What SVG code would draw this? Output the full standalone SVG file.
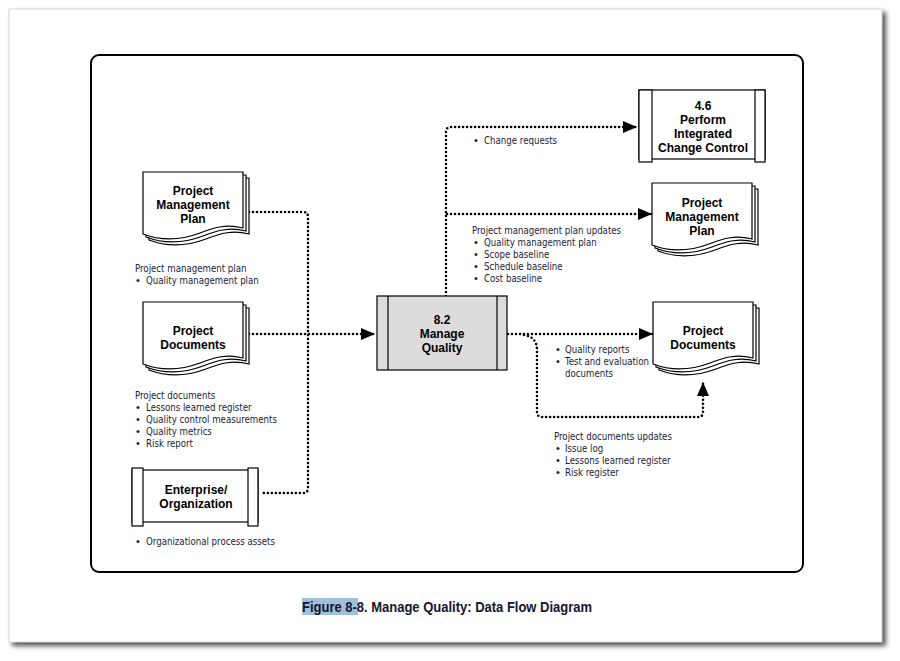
<svg xmlns="http://www.w3.org/2000/svg" width="900" height="661" viewBox="0 0 900 661">
<defs>
<style>
.node{fill:#fff;stroke:#000;stroke-width:1.2}
.gray{fill:#dcdcdc;stroke:#000;stroke-width:1.2}
.nt{font-family:"Liberation Sans",Arial,sans-serif;font-weight:bold;font-size:12px;fill:#000;text-anchor:middle}
.lb{font-family:"Liberation Sans Narrow","DejaVu Sans Condensed","Liberation Sans",sans-serif;font-size:9.6px;fill:#1c1c3c}
.bl{font-family:"Liberation Sans",Arial,sans-serif;font-size:11px;fill:#1c1c3c}
.dot{fill:none;stroke:#000;stroke-width:2.6;stroke-linecap:round;stroke-dasharray:0 4}
</style>
<marker id="ah" markerUnits="userSpaceOnUse" markerWidth="15" markerHeight="14" refX="14" refY="7" orient="auto">
<path d="M0,1 L14,7 L0,13 Z" fill="#000"/>
</marker>
<filter id="sh" x="-5%" y="-5%" width="110%" height="110%">
<feGaussianBlur stdDeviation="2.5"/>
</filter>
<g id="doc">
<path d="M6,6 H106 V62 C90,58 78,61 63,67 C47,73 27,76 6,68 Z" class="node"/>
<path d="M3,3 H103 V59 C87,55 75,58 60,64 C44,70 24,73 3,65 Z" class="node"/>
<path d="M0,0 H100 V56 C84,52 72,55 57,61 C41,67 21,70 0,62 Z" class="node"/>
</g>
</defs>
<rect width="900" height="661" fill="#fff"/>
<rect x="12" y="12" width="874" height="634" fill="#555" filter="url(#sh)"/>
<rect x="9" y="9" width="873" height="633" fill="#fff" stroke="#d8d8d8" stroke-width="1"/>
<rect x="91" y="55" width="712" height="517" rx="8" fill="#fff" stroke="#000" stroke-width="2"/>

<g id="connectors">
<path class="dot" d="M249,212 H303 Q308,212 308,217 V488 Q308,493 303,493 H262"/>
<path class="dot" d="M249,334 H375" marker-end="url(#ah)"/>
<path class="dot" d="M446,296 V132 Q446,127 451,127 H637" marker-end="url(#ah)"/>
<path class="dot" d="M447,214 H652" marker-end="url(#ah)"/>
<path class="dot" d="M508,334 H653" marker-end="url(#ah)"/>
<path class="dot" d="M524,335 Q537,337 537,350 V412 Q537,417 542,417 H698 Q703,417 703,412 V382" marker-end="url(#ah)"/>
</g>

<g id="pmp-in">
<use href="#doc" x="143" y="172"/>
<text class="nt" x="193" y="195">Project</text>
<text class="nt" x="193" y="209">Management</text>
<text class="nt" x="193" y="223">Plan</text>
<text class="lb" x="135" y="272">Project management plan</text>
<text class="bl" x="136" y="284">•</text><text class="lb" x="146" y="284">Quality management plan</text>
</g>

<g id="pd-in">
<use href="#doc" x="143" y="302"/>
<text class="nt" x="193" y="335">Project</text>
<text class="nt" x="193" y="349">Documents</text>
<text class="lb" x="135" y="399">Project documents</text>
<text class="bl" x="136" y="411">•</text><text class="lb" x="146" y="411">Lessons learned register</text>
<text class="bl" x="136" y="423">•</text><text class="lb" x="146" y="423">Quality control measurements</text>
<text class="bl" x="136" y="435">•</text><text class="lb" x="146" y="435">Quality metrics</text>
<text class="bl" x="136" y="447">•</text><text class="lb" x="146" y="447">Risk report</text>
</g>

<g id="eeo">
<rect class="node" x="132" y="470" width="126" height="52"/>
<rect class="node" x="132" y="468" width="11" height="58"/>
<rect class="node" x="248" y="468" width="10" height="58"/>
<text class="nt" x="196" y="494">Enterprise/</text>
<text class="nt" x="196" y="508">Organization</text>
<text class="bl" x="136" y="545">•</text><text class="lb" x="146" y="545">Organizational process assets</text>
</g>

<g id="mq">
<rect class="gray" x="377" y="296" width="130" height="74"/>
<line x1="388" y1="296" x2="388" y2="370" stroke="#000" stroke-width="1.2"/>
<line x1="497" y1="296" x2="497" y2="370" stroke="#000" stroke-width="1.2"/>
<text class="nt" x="442" y="324">8.2</text>
<text class="nt" x="442" y="338">Manage</text>
<text class="nt" x="442" y="352">Quality</text>
</g>

<g id="picc">
<rect class="node" x="639" y="90" width="126" height="69"/>
<rect class="node" x="639" y="90" width="13" height="72"/>
<rect class="node" x="755" y="90" width="10" height="72"/>
<text class="nt" x="703" y="110">4.6</text>
<text class="nt" x="703" y="124">Perform</text>
<text class="nt" x="703" y="138">Integrated</text>
<text class="nt" x="703" y="152">Change Control</text>
<text class="bl" x="474" y="144">•</text><text class="lb" x="484" y="144">Change requests</text>
</g>

<g id="pmp-out">
<use href="#doc" x="652" y="183"/>
<text class="nt" x="702" y="207">Project</text>
<text class="nt" x="702" y="221">Management</text>
<text class="nt" x="702" y="235">Plan</text>
<text class="lb" x="472" y="234">Project management plan updates</text>
<text class="bl" x="474" y="246">•</text><text class="lb" x="484" y="246">Quality management plan</text>
<text class="bl" x="474" y="258">•</text><text class="lb" x="484" y="258">Scope baseline</text>
<text class="bl" x="474" y="270">•</text><text class="lb" x="484" y="270">Schedule baseline</text>
<text class="bl" x="474" y="282">•</text><text class="lb" x="484" y="282">Cost baseline</text>
</g>

<g id="pd-out">
<use href="#doc" x="653" y="302"/>
<text class="nt" x="703" y="335">Project</text>
<text class="nt" x="703" y="349">Documents</text>
<text class="bl" x="556" y="353">•</text><text class="lb" x="565" y="353">Quality reports</text>
<text class="bl" x="556" y="365">•</text><text class="lb" x="565" y="365">Test and evaluation</text>
<text class="lb" x="565" y="377">documents</text>
<text class="lb" x="554" y="440">Project documents updates</text>
<text class="bl" x="556" y="452">•</text><text class="lb" x="565" y="452">Issue log</text>
<text class="bl" x="556" y="464">•</text><text class="lb" x="565" y="464">Lessons learned register</text>
<text class="bl" x="556" y="476">•</text><text class="lb" x="565" y="476">Risk register</text>
</g>

<g id="caption">
<rect x="302" y="598" width="56" height="17" fill="#9fc0d8"/>
<text x="302" y="612" font-family="Liberation Sans Narrow,Liberation Sans,Arial,sans-serif" font-weight="bold" font-size="14" fill="#151530" textLength="290" lengthAdjust="spacingAndGlyphs">Figure 8-8. Manage Quality: Data Flow Diagram</text>
</g>
</svg>
